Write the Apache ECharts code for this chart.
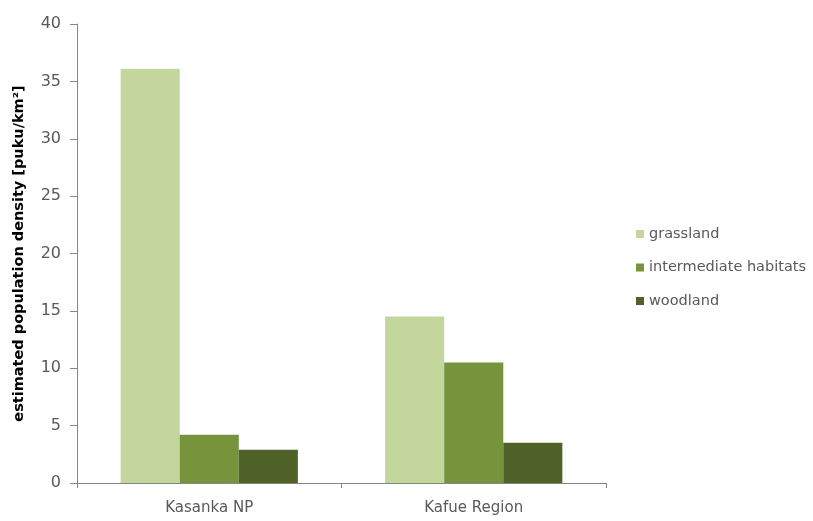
<!DOCTYPE html>
<html>
<head>
<meta charset="utf-8">
<script src="https://cdn.jsdelivr.net/npm/echarts@6/dist/echarts.min.js"></script>
<style>
  html, body { margin: 0; padding: 0; background: #fff; }
  #chart { width: 813px; height: 521px; }
</style>
</head>
<body>
<div id="chart"></div>
<script>
// Study areas along the x axis
const regions = ['Kasanka NP', 'Kafue Region'];

// Estimated puku density per habitat type
const grassland = [36.1, 14.5];
const intermediate = [4.2, 10.5];
const woodland = [2.9, 3.5];

const seriesNames = ['grassland', 'intermediate habitats', 'woodland'];
const yTicks = [0, 5, 10, 15, 20, 25, 30, 35, 40];

const colors = ['#c3d69b', '#77933c', '#4f6228'];
const fontFamily = '"DejaVu Sans", sans-serif';
const textColor = '#595959';
const axisColor = '#868686';

const chart = echarts.init(document.getElementById('chart'), null, { renderer: 'canvas' });

const valueSets = [grassland, intermediate, woodland];

chart.setOption({
  animation: false,
  color: colors,
  grid: { left: 77, right: 207, top: 24, bottom: 38, containLabel: false },
  legend: {
    orient: 'vertical',
    left: 636,
    top: 226,
    padding: 0,
    itemWidth: 8,
    itemHeight: 8,
    itemGap: 17.5,
    icon: 'rect',
    textStyle: { fontFamily, fontSize: 14.5, lineHeight: 16, color: textColor },
    data: seriesNames
  },
  xAxis: {
    type: 'category',
    data: regions,
    axisLine: { lineStyle: { color: axisColor } },
    axisTick: { show: true, length: 5, lineStyle: { color: axisColor } },
    axisLabel: { fontFamily, fontSize: 15, color: textColor, margin: 18 }
  },
  yAxis: {
    type: 'value',
    min: yTicks[0],
    max: yTicks[yTicks.length - 1],
    interval: yTicks[1] - yTicks[0],
    name: 'estimated population density [puku/km²]',
    nameLocation: 'middle',
    nameGap: 50,
    nameTextStyle: { fontFamily, fontSize: 14.5, fontWeight: 'bold', color: '#000' },
    axisLine: { show: true, lineStyle: { color: axisColor } },
    axisTick: { show: true, length: 7, lineStyle: { color: axisColor } },
    splitLine: { show: false },
    axisLabel: { fontFamily, fontSize: 16, color: textColor, margin: 16 }
  },
  series: seriesNames.map((name, i) => ({
    name,
    type: 'bar',
    data: valueSets[i],
    barGap: '0%',
    barCategoryGap: '33%',
    itemStyle: { color: colors[i] }
  }))
});
</script>
</body>
</html>
